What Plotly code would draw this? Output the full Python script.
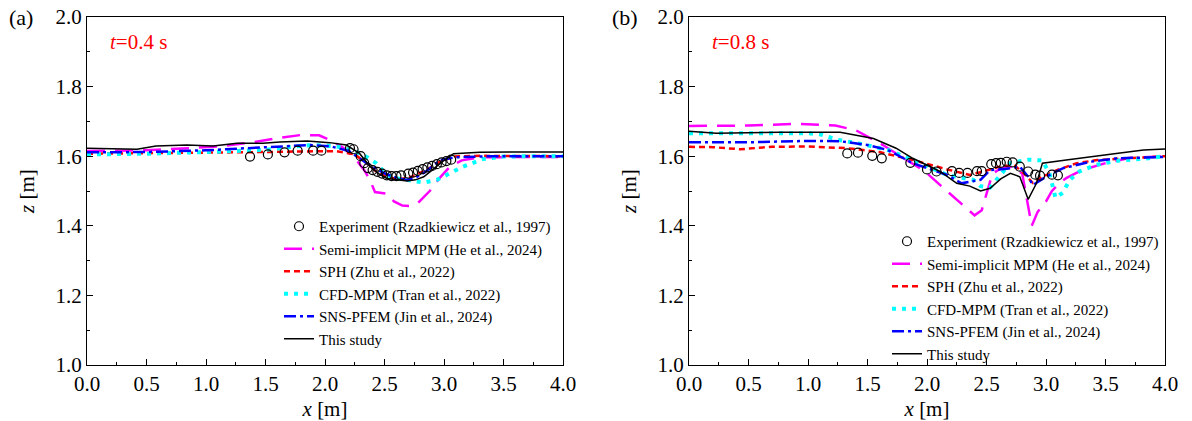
import plotly.graph_objects as go

# ---------------- data: panel (a) t = 0.4 s ----------------
a_exp_x = [1.37, 1.52, 1.66, 1.77, 1.90, 1.97, 2.21, 2.24, 2.30, 2.33, 2.36, 2.40, 2.44, 2.48,
           2.52, 2.56, 2.60, 2.64, 2.70, 2.74, 2.78, 2.82, 2.86, 2.90, 2.94, 2.98, 3.02, 3.06]
a_exp_z = [1.599, 1.605, 1.611, 1.616, 1.616, 1.616, 1.623, 1.620, 1.600, 1.580, 1.566, 1.560,
           1.555, 1.550, 1.545, 1.543, 1.543, 1.545, 1.550, 1.553, 1.558, 1.563, 1.568, 1.572,
           1.577, 1.582, 1.586, 1.590]

a_mpm_x = [0, 0.5, 0.8, 1.1, 1.4, 1.6, 1.8, 1.95, 2.05, 2.15, 2.25, 2.33, 2.38, 2.42, 2.52,
           2.58, 2.65, 2.72, 2.78, 2.88, 2.97, 3.05, 3.15, 3.3, 4.0]
a_mpm_z = [1.615, 1.617, 1.622, 1.628, 1.640, 1.652, 1.661, 1.660, 1.645, 1.625, 1.595, 1.560,
           1.530, 1.497, 1.492, 1.470, 1.458, 1.457, 1.465, 1.500, 1.540, 1.570, 1.588, 1.597, 1.598]

a_sph_x = [0, 0.5, 1.0, 1.5, 1.9, 2.1, 2.25, 2.35, 2.45, 2.55, 2.63, 2.72, 2.85, 2.97, 3.08, 3.3, 4.0]
a_sph_z = [1.607, 1.608, 1.610, 1.612, 1.614, 1.614, 1.605, 1.580, 1.550, 1.538, 1.534, 1.540,
           1.560, 1.585, 1.599, 1.601, 1.600]

a_cfd_x = [0, 0.5, 1.0, 1.5, 1.75, 1.9, 2.1, 2.25, 2.35, 2.43, 2.52, 2.6, 2.69, 2.83, 2.94,
           3.02, 3.16, 3.33, 3.5, 3.8, 4.0]
a_cfd_z = [1.605, 1.607, 1.612, 1.618, 1.628, 1.632, 1.628, 1.615, 1.598, 1.580, 1.546, 1.536,
           1.532, 1.524, 1.532, 1.546, 1.570, 1.592, 1.599, 1.600, 1.600]

a_pfem_x = [0, 0.5, 1.0, 1.34, 1.6, 1.87, 2.05, 2.2, 2.35, 2.49, 2.6, 2.69, 2.76, 2.83, 2.9,
            2.97, 3.1, 3.4, 4.0]
a_pfem_z = [1.611, 1.612, 1.617, 1.623, 1.628, 1.632, 1.628, 1.615, 1.580, 1.552, 1.538, 1.532,
            1.538, 1.552, 1.570, 1.589, 1.597, 1.600, 1.600]

a_this_x = [0, 0.2, 0.42, 0.58, 0.84, 1.06, 1.26, 1.48, 1.62, 1.85, 2.04, 2.18, 2.29, 2.38,
            2.45, 2.52, 2.62, 2.69, 2.76, 2.83, 2.9, 2.97, 3.08, 3.3, 3.6, 4.0]
a_this_z = [1.623, 1.622, 1.620, 1.629, 1.632, 1.629, 1.637, 1.637, 1.641, 1.644, 1.639, 1.632,
            1.608, 1.570, 1.550, 1.536, 1.532, 1.529, 1.532, 1.541, 1.560, 1.580, 1.607, 1.611,
            1.612, 1.612]

# ---------------- data: panel (b) t = 0.8 s ----------------
b_exp_x = [1.33, 1.42, 1.54, 1.62, 1.86, 2.00, 2.08, 2.21, 2.27, 2.34, 2.42, 2.46, 2.54, 2.58,
           2.62, 2.67, 2.72, 2.78, 2.85, 2.91, 2.95, 3.05, 3.10]
b_exp_z = [1.608, 1.610, 1.601, 1.594, 1.581, 1.562, 1.556, 1.557, 1.552, 1.552, 1.557, 1.557,
           1.577, 1.580, 1.581, 1.584, 1.582, 1.570, 1.556, 1.547, 1.544, 1.547, 1.545]

b_mpm_x = [0, 0.5, 0.9, 1.23, 1.4, 1.63, 1.8, 1.98, 2.15, 2.32, 2.4, 2.46, 2.52, 2.55, 2.62,
           2.72, 2.8, 2.88, 2.93, 3.0, 3.05, 3.12, 3.17, 3.3, 3.5, 3.7, 4.0]
b_mpm_z = [1.687, 1.688, 1.693, 1.688, 1.675, 1.632, 1.595, 1.557, 1.505, 1.454, 1.430, 1.445,
           1.520, 1.550, 1.565, 1.570, 1.550, 1.400, 1.440, 1.470, 1.500, 1.525, 1.537, 1.560,
           1.580, 1.595, 1.600]

b_sph_x = [0, 0.2, 0.43, 0.7, 1.0, 1.33, 1.6, 1.88, 2.17, 2.36, 2.47, 2.61, 2.73, 2.81, 2.89,
           2.97, 3.09, 3.26, 3.43, 3.7, 4.0]
b_sph_z = [1.627, 1.626, 1.620, 1.627, 1.628, 1.623, 1.612, 1.589, 1.562, 1.546, 1.556, 1.570,
           1.575, 1.552, 1.523, 1.541, 1.560, 1.580, 1.589, 1.595, 1.600]

b_cfd_x = [0, 0.5, 1.0, 1.1, 1.25, 1.45, 1.67, 1.88, 2.17, 2.39, 2.45, 2.53, 2.61, 2.70, 2.85,
           2.97, 3.03, 3.08, 3.14, 3.2, 3.28, 3.42, 3.6, 3.8, 4.0]
b_cfd_z = [1.666, 1.666, 1.666, 1.663, 1.647, 1.635, 1.618, 1.589, 1.546, 1.532, 1.514, 1.510,
           1.541, 1.580, 1.590, 1.588, 1.550, 1.480, 1.495, 1.532, 1.556, 1.575, 1.587, 1.592,
           1.600]

b_pfem_x = [0, 0.5, 1.0, 1.27, 1.5, 1.67, 1.88, 2.17, 2.29, 2.39, 2.45, 2.53, 2.67, 2.78, 2.85,
            2.89, 3.0, 3.14, 3.37, 3.6, 4.0]
b_pfem_z = [1.640, 1.640, 1.644, 1.643, 1.632, 1.618, 1.580, 1.546, 1.522, 1.527, 1.532, 1.560,
            1.564, 1.570, 1.541, 1.517, 1.541, 1.565, 1.584, 1.594, 1.598]

b_this_x = [0, 0.23, 0.76, 1.27, 1.55, 1.74, 1.88, 2.11, 2.25, 2.36, 2.45, 2.53, 2.62, 2.70,
            2.78, 2.85, 2.92, 2.97, 3.17, 3.37, 3.59, 3.82, 4.0]
b_this_z = [1.672, 1.666, 1.669, 1.669, 1.651, 1.623, 1.594, 1.556, 1.522, 1.514, 1.500, 1.508,
            1.535, 1.551, 1.541, 1.476, 1.522, 1.580, 1.589, 1.599, 1.608, 1.618, 1.621]

names = ["Experiment (Rzadkiewicz et al., 1997)",
         "Semi-implicit MPM (He et al., 2024)",
         "SPH (Zhu et al., 2022)",
         "CFD-MPM (Tran et al., 2022)",
         "SNS-PFEM (Jin et al., 2024)",
         "This study"]
x_ticks = [0.0, 0.5, 1.0, 1.5, 2.0, 2.5, 3.0, 3.5, 4.0]
z_ticks = [1.0, 1.2, 1.4, 1.6, 1.8, 2.0]
panel_labels = ["(a)", "(b)"]
time_labels = ["<i>t</i>=0.4 s", "<i>t</i>=0.8 s"]

FONT = "Liberation Serif"
W, H = 1192, 421
ML, MR, MT, MB = 87, 27, 17, 56          # plot area: x 87..1165, y 17..365
PW, PH = W - ML - MR, H - MT - MB


def px(xpix):
    return (xpix - ML) / PW


def py(ypix):
    return (H - MB - ypix) / PH


line_styles = [
    dict(color="#FF00FF", width=2.5, dash="18px,10px"),
    dict(color="#FF0000", width=2.5, dash="6px,4px"),
    dict(color="#00FFFF", width=4, dash="4px,6px"),
    dict(color="#0000FF", width=2.5, dash="12px,4px,3px,4px"),
    dict(color="#000000", width=1.5),
]

fig = go.Figure()

panels = [
    ("x", "y", "legend", a_exp_x, a_exp_z,
     [(a_mpm_x, a_mpm_z), (a_sph_x, a_sph_z), (a_cfd_x, a_cfd_z), (a_pfem_x, a_pfem_z), (a_this_x, a_this_z)]),
    ("x2", "y2", "legend2", b_exp_x, b_exp_z,
     [(b_mpm_x, b_mpm_z), (b_sph_x, b_sph_z), (b_cfd_x, b_cfd_z), (b_pfem_x, b_pfem_z), (b_this_x, b_this_z)]),
]

for xa, ya, lg, ex, ez, series in panels:
    for i, (sx, sz) in enumerate(series):
        fig.add_trace(go.Scatter(x=sx, y=sz, mode="lines", name=names[i + 1],
                                 line=line_styles[i], xaxis=xa, yaxis=ya, legend=lg,
                                 legendrank=i + 2))
    fig.add_trace(go.Scatter(x=ex, y=ez, mode="markers", name=names[0],
                             marker=dict(symbol="circle-open", size=9, color="black",
                                         line=dict(width=1.2, color="black")),
                             xaxis=xa, yaxis=ya, legend=lg, legendrank=1))

xdoms = [[0, px(563)], [px(689), 1]]

axis_common = dict(showline=True, linecolor="black", linewidth=1.3, mirror=True,
                   ticks="inside", ticklen=6, tickwidth=1, tickcolor="black",
                   showgrid=False, zeroline=False, automargin=False,
                   tickfont=dict(family=FONT, size=21, color="black"))

layout = dict(width=W, height=H, margin=dict(l=ML, r=MR, t=MT, b=MB, autoexpand=False),
              plot_bgcolor="white", paper_bgcolor="white", showlegend=True)

for k, (xn, yn) in enumerate([("xaxis", "yaxis"), ("xaxis2", "yaxis2")]):
    layout[xn] = dict(axis_common, domain=xdoms[k], range=[0, 4.0], tickvals=x_ticks,
                      ticktext=[f"{v:.1f}" for v in x_ticks],
                      minor=dict(ticks="inside", ticklen=3, dtick=0.25, tickcolor="black"),
                      title=dict(text="<i>x</i> [m]", font=dict(family=FONT, size=21, color="black")),
                      anchor="y" if k == 0 else "y2")
    layout[yn] = dict(axis_common, domain=[0, 1], range=[1.0, 2.0], tickvals=z_ticks,
                      ticktext=[f"{v:.1f}" for v in z_ticks],
                      minor=dict(ticks="inside", ticklen=3, dtick=0.1, tickcolor="black"),
                      title=dict(text="<i>z</i> [m]", font=dict(family=FONT, size=21, color="black")),
                      anchor="x" if k == 0 else "x2")

leg_common = dict(xanchor="left", yanchor="top", bgcolor="rgba(0,0,0,0)",
                  font=dict(family=FONT, size=15, color="black"), tracegroupgap=0,
                  itemwidth=30, traceorder="normal")
layout["legend"] = dict(leg_common, x=px(279), y=py(210))
layout["legend2"] = dict(leg_common, x=px(887), y=py(225))

annotations = []
for k, (px_lab, px_t) in enumerate([(7, 108), (610, 710)]):
    annotations.append(dict(text=panel_labels[k], x=px(px_lab), y=py(17), xref="paper",
                            yref="paper", xanchor="left", yanchor="middle", showarrow=False,
                            font=dict(family=FONT, size=22, color="black")))
    annotations.append(dict(text=time_labels[k], x=px(px_t), y=py(42), xref="paper",
                            yref="paper", xanchor="left", yanchor="middle", showarrow=False,
                            font=dict(family=FONT, size=21, color="#FF0000")))
layout["annotations"] = annotations

fig.update_layout(**layout)
fig.write_html("out.html")
